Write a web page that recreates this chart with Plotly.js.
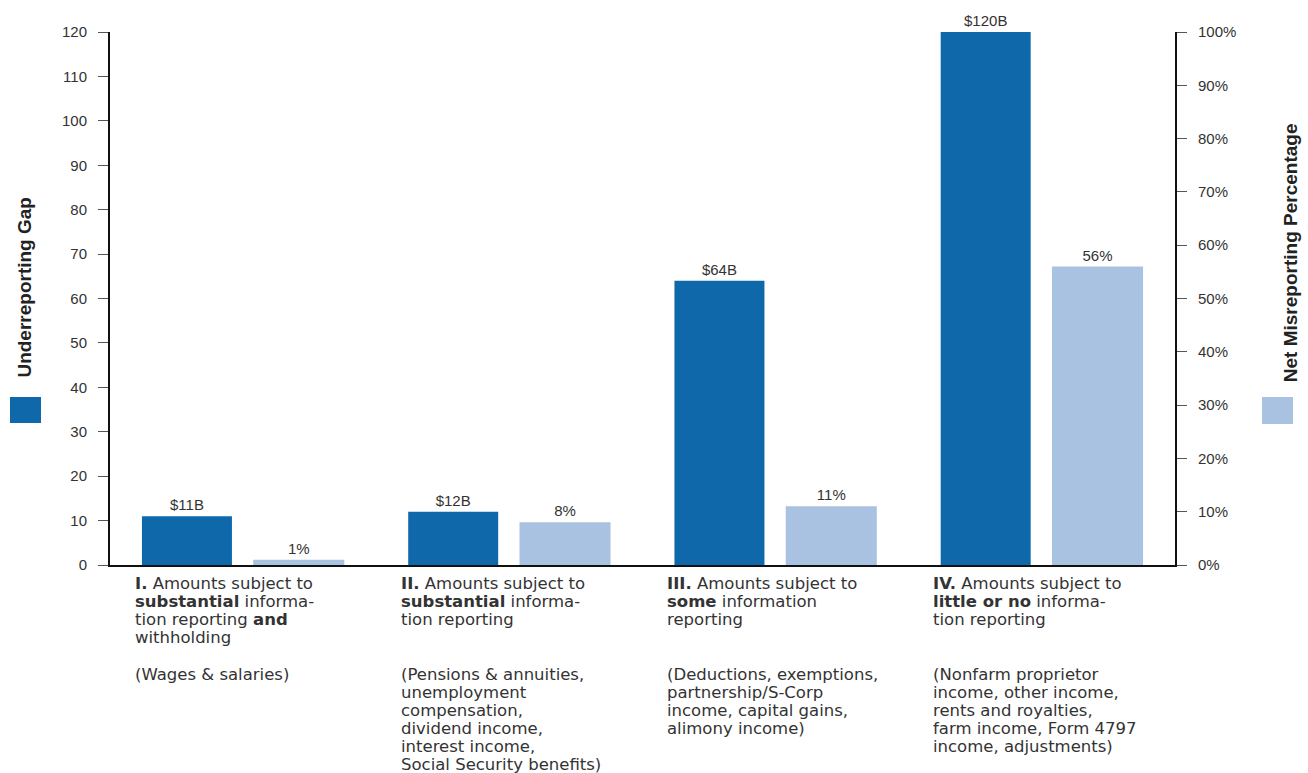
<!DOCTYPE html>
<html>
<head>
<meta charset="utf-8">
<script src="https://cdn.plot.ly/plotly-3.0.1.min.js"></script>
<style>html,body{margin:0;padding:0;background:#fff;}#chart{width:1308px;height:773px;}</style>
</head>
<body>
<div id="chart"></div>
<script>
// ---- data ----
const categories = ["I", "II", "III", "IV"];
const gapBillions = [11, 12, 64, 120];
const misreportPct = [1, 8, 11, 56];
const leftTitle = "Underreporting Gap";
const rightTitle = "Net Misreporting Percentage";
const mainLabels = [
  ["<b>I.</b> Amounts subject to", "<b>substantial</b> informa-", "tion reporting <b>and</b>", "withholding"],
  ["<b>II.</b> Amounts subject to", "<b>substantial</b> informa-", "tion reporting"],
  ["<b>III.</b> Amounts subject to", "<b>some</b> information", "reporting"],
  ["<b>IV.</b> Amounts subject to", "<b>little or no</b> informa-", "tion reporting"]
];
const subLabels = [
  ["(Wages & salaries)"],
  ["(Pensions & annuities,", "unemployment", "compensation,", "dividend income,", "interest income,", "Social Security benefits)"],
  ["(Deductions, exemptions,", "partnership/S-Corp", "income, capital gains,", "alimony income)"],
  ["(Nonfarm proprietor", "income, other income,", "rents and royalties,", "farm income, Form 4797", "income, adjustments)"]
];

// ---- styles ----
const darkBlue = "#0f68aa";
const lightBlue = "#a9c2e1";
const tickFont = {family: "Liberation Sans, Arial, sans-serif", size: 15, color: "#333"};
const labelFont = {family: "DejaVu Sans, sans-serif", size: 16.5, color: "#333"};

const traces = [
  {
    type: "bar", x: categories, y: gapBillions, yaxis: "y",
    marker: {color: darkBlue}, width: 0.338, offset: -0.38,
    text: gapBillions.map(v => "$" + v + "B"), textposition: "outside",
    textfont: {family: tickFont.family, size: 15, color: "#333"},
    cliponaxis: false, constraintext: "none", hoverinfo: "skip"
  },
  {
    type: "bar", x: categories, y: misreportPct, yaxis: "y2",
    marker: {color: lightBlue}, width: 0.342, offset: 0.038,
    text: misreportPct.map(v => v + "%"), textposition: "outside",
    textfont: {family: tickFont.family, size: 15, color: "#333"},
    cliponaxis: false, constraintext: "none", hoverinfo: "skip"
  }
];

const annotations = [];
const lineH = 18.3;
categories.forEach((c, i) => {
  mainLabels[i].forEach((ln, j) => {
    annotations.push({
      x: i - 0.415, xref: "x", y: 0, yref: "paper", yanchor: "middle", xanchor: "left",
      yshift: -(18 + j * lineH), text: ln, showarrow: false, align: "left",
      font: labelFont
    });
  });
  subLabels[i].forEach((ln, j) => {
    annotations.push({
      x: i - 0.415, xref: "x", y: 0, yref: "paper", yanchor: "middle", xanchor: "left",
      yshift: -(109 + j * 18), text: ln, showarrow: false, align: "left",
      font: labelFont
    });
  });
});
annotations.push({
  x: -0.080, xref: "paper", y: 0.522, yref: "paper", text: "<b>" + leftTitle + "</b>",
  textangle: -90, showarrow: false, xanchor: "center", yanchor: "middle",
  font: {family: "Liberation Sans, Arial, sans-serif", size: 19, color: "#222"}
});
annotations.push({
  x: 1.108, xref: "paper", y: 0.585, yref: "paper", text: "<b>" + rightTitle + "</b>",
  textangle: -90, showarrow: false, xanchor: "center", yanchor: "middle",
  font: {family: "Liberation Sans, Arial, sans-serif", size: 19, color: "#222"}
});

const layout = {
  width: 1308, height: 773,
  margin: {l: 110, r: 133, t: 32, b: 208},
  paper_bgcolor: "#fff", plot_bgcolor: "#fff",
  showlegend: false,
  barmode: "overlay",
  xaxis: {
    type: "category", range: [-0.5, 3.5], showticklabels: false, ticks: "",
    showline: true, linecolor: "#111", linewidth: 2, showgrid: false, zeroline: false, fixedrange: true
  },
  yaxis: {
    range: [0, 120], dtick: 10, tick0: 0, showgrid: false, zeroline: false,
    showline: true, linecolor: "#111", linewidth: 2, ticks: "outside", ticklen: 10,
    tickcolor: "#555", tickwidth: 1, tickfont: tickFont, ticklabelstandoff: 8
  },
  yaxis2: {
    overlaying: "y", side: "right", range: [0, 100], dtick: 10, tick0: 0, ticksuffix: "%",
    showgrid: false, zeroline: false, showline: true, linecolor: "#111", linewidth: 2,
    ticks: "outside", ticklen: 10, tickcolor: "#555", tickwidth: 1, tickfont: tickFont,
    ticklabelstandoff: 8
  },
  shapes: [
    {type: "rect", xref: "paper", yref: "paper", x0: -0.0939, x1: -0.0648, y0: 0.2664, y1: 0.3152,
     fillcolor: darkBlue, line: {width: 0}},
    {type: "rect", xref: "paper", yref: "paper", x0: 1.0817, x1: 1.1108, y0: 0.2645, y1: 0.3152,
     fillcolor: lightBlue, line: {width: 0}}
  ],
  annotations: annotations
};

Plotly.newPlot("chart", traces, layout, {displayModeBar: false, staticPlot: true});
</script>
</body>
</html>
